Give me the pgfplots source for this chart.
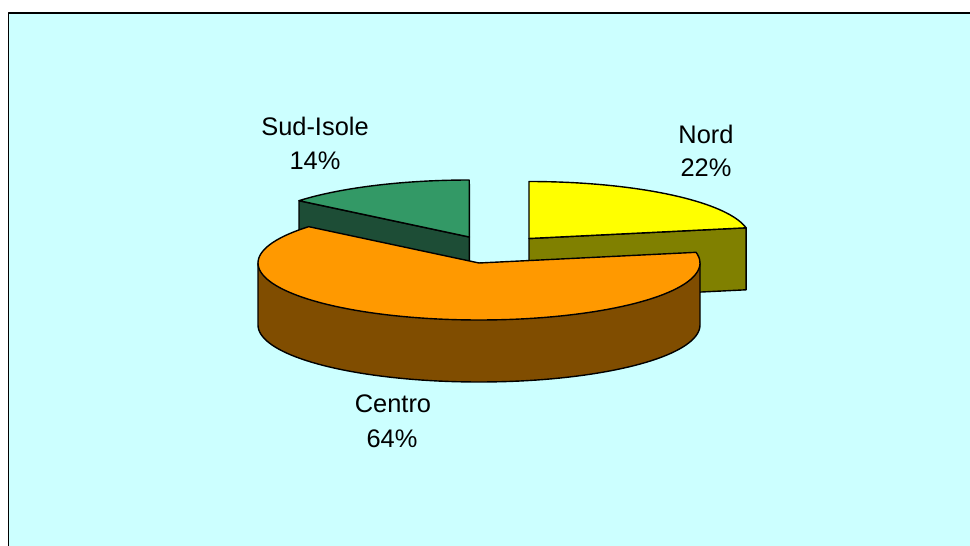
\documentclass[border=0pt]{standalone}
\usepackage{pgfplots}
\pgfplotsset{compat=1.18}
\usepackage{fontspec}
\setmainfont{Liberation Sans}
\definecolor{bgc}{HTML}{CCFFFF}
\definecolor{nordtop}{HTML}{FFFF00}
\definecolor{nordside}{HTML}{808000}
\definecolor{centop}{HTML}{FF9900}
\definecolor{censide}{HTML}{804D00}
\definecolor{sudtop}{HTML}{339966}
\definecolor{sudside}{HTML}{1D4D36}
% shares of the pie (percent)
\def\pNord{22}
\def\pCentro{64}
\def\pSud{14}
\pgfmathsetmacro\aN{3.6*\pNord}
\pgfmathsetmacro\aC{\aN+3.6*\pCentro}
\begin{document}
\begin{tikzpicture}
\begin{axis}[
  scale only axis, width=485pt, height=273pt,
  xmin=0, xmax=970, ymin=0, ymax=546, y dir=reverse,
  hide axis, clip=true,
  every axis plot/.append style={line width=0.7pt, line join=round},
]
% background
\addplot[fill=white, draw=none] coordinates {(0,0) (970,0) (970,546) (0,546)} -- cycle;
\addplot[fill=bgc, draw=none] coordinates {(8.5,13) (975,13) (975,560) (8.5,560)} -- cycle;
\addplot[draw=black, line width=0.9pt] coordinates {(8.5,560) (8.5,13) (975,13)};
% Sud-Isole: cut face then top
\addplot[fill=sudside, draw=black] coordinates {(469.3,237) (299,200.7) (299,262.7) (469.3,299)} -- cycle;
\addplot[fill=sudtop, draw=black, domain=\aC:360, samples=40]
  ({469.3+221*sin(x)},{237-57*cos(x)}) -- (axis cs:469.3,237) -- cycle;
% Nord: cut face then top
\addplot[fill=nordside, draw=black] coordinates {(529,238.5) (746.1,227.8) (746.1,289.8) (529,300.5)} -- cycle;
\addplot[fill=nordtop, draw=black, domain=0:\aN, samples=40]
  ({529+221*sin(x)},{238.5-57*cos(x)}) -- (axis cs:529,238.5) -- cycle;
% Centro: wall then top
\addplot[fill=censide, draw=black, domain=90:270, samples=80]
  ({479+221*sin(x)},{325-57*cos(x)}) -- (axis cs:258,263) -- (axis cs:700,263) -- cycle;
\addplot[fill=centop, draw=black, domain=\aN:\aC, samples=100]
  ({479+221*sin(x)},{263-57*cos(x)}) -- (axis cs:479,263) -- cycle;
% labels
\begin{scope}[every node/.style={font=\fontsize{12.7}{15}\selectfont, anchor=base, inner sep=0pt}]
\node at (axis cs:315,135) {Sud-Isole};
\node at (axis cs:315,169.3) {14\%};
\node at (axis cs:706,143.3) {Nord};
\node at (axis cs:706,176.7) {22\%};
\node at (axis cs:393,412.7) {Centro};
\node at (axis cs:392,447.3) {64\%};
\end{scope}
\end{axis}
\end{tikzpicture}
\end{document}
